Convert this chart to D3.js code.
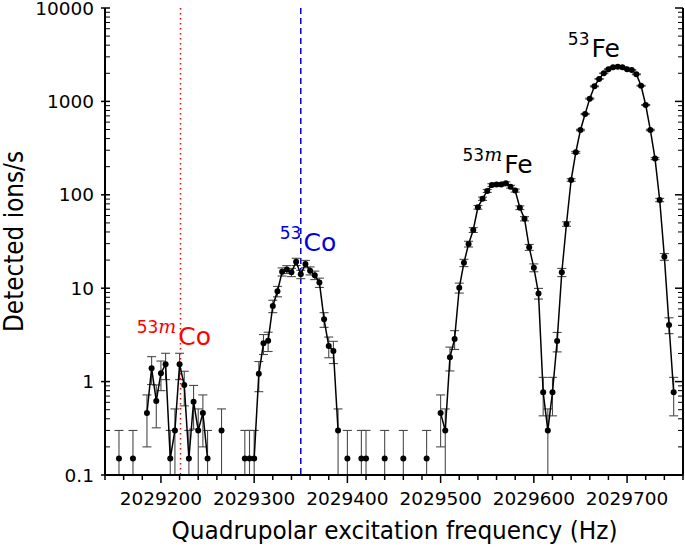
<!DOCTYPE html>
<html><head><meta charset="utf-8">
<script src="https://cdn.jsdelivr.net/npm/d3@7"></script>
<style>
body{margin:0;background:#fff;}
text{font-family:"DejaVu Sans",sans-serif;}
</style></head>
<body><svg id="c" width="685" height="549"></svg>
<script>
// Data (frequency in Hz, detected ions/s, uncertainty)
const freq = [2029155,2029170,2029185,2029190,2029195,2029200,2029205,2029210,2029215,2029220,2029225,2029230,2029235,2029240,2029245,2029250,2029265,
2029290,2029295,2029300,2029305,2029310,2029315,2029320,2029325,2029330,2029335,2029340,2029345,2029350,2029355,2029360,2029365,2029370,2029375,2029380,2029385,2029390,
2029400,2029415,2029420,2029440,2029460,2029485,
2029500,2029505,2029510,2029515,2029520,2029525,2029530,2029535,2029540,2029545,2029550,2029555,2029560,2029565,2029570,2029575,2029580,2029585,2029590,2029595,2029600,2029605,2029610,2029615,2029620,
2029625,2029630,2029635,2029640,2029645,2029650,2029655,2029660,2029665,2029670,2029675,2029680,2029685,2029690,2029695,2029700,2029705,2029710,2029715,2029720,2029725,2029730,2029735,2029740,2029745,2029750];
const rate = [0.15,0.15,0.46,1.39,0.62,1.23,1.53,0.15,0.30,1.53,0.92,0.15,0.61,0.30,0.46,0.15,0.30,
0.15,0.15,0.15,1.21,2.57,2.74,6.45,9.27,15.0,15.9,14.8,19.2,14.1,18.2,15.4,13.8,11.5,4.64,2.40,2.13,0.30,
0.15,0.15,0.15,0.15,0.15,0.15,
0.46,0.30,1.82,2.86,10.1,18.7,29.7,42.0,73.5,90.8,110,127,129,129,133,122,111,72.8,55.5,27.4,16.6,8.8,0.77,0.30,0.77,
2.72,14.8,48.7,144,285,494,733,1070,1450,1740,2000,2210,2320,2350,2320,2210,2170,1950,1470,915,494,244,88,21.7,4.04,0.77];
const err = [0.15,0.15,0.26,0.46,0.30,0.43,0.48,0.15,0.21,0.48,0.37,0.15,0.30,0.21,0.26,0.15,0.21,
0.15,0.15,0.15,0.43,0.62,0.64,0.98,1.18,1.5,1.54,1.49,1.7,1.45,1.65,1.52,1.44,1.31,0.83,0.60,0.57,0.21,
0.15,0.15,0.15,0.15,0.15,0.15,
0.26,0.21,0.52,0.65,1.23,1.67,2.1,2.5,3.3,3.7,4.1,4.4,4.4,4.4,4.5,4.3,4.1,3.3,2.9,2.0,1.6,1.15,0.34,0.21,0.34,
0.64,1.49,2.7,4.6,6.5,8.6,10.5,12.7,14.7,16.2,17.3,18.2,18.7,18.8,18.7,18.2,18.0,17.1,14.8,11.7,8.6,6.0,3.6,1.8,0.78,0.34];

const xTicks = [2029200,2029300,2029400,2029500,2029600,2029700];
const yTicks = [0.1,1,10,100,1000,10000];
const yTickLabels = ["0.1","1","10","100","1000","10000"];

const refLines = [{f:2029221,color:"#ff0000",dash:"1.5,3.5"},{f:2029350,color:"#0000dd",dash:"6,4"}];
const labels = [
 {sup:"53",m:true, main:"Co", f:2029174, v:2.47, color:"#ff0000"},
 {sup:"53",m:false,main:"Co", f:2029327.5, v:25, color:"#0000dd"},
 {sup:"53",m:true, main:"Fe", f:2029523.5, v:170, color:"#000"},
 {sup:"53",m:false,main:"Fe", f:2029636.5, v:2985, color:"#000"}
];

const data = freq.map((f,i)=>({f, v:rate[i], e:err[i]}));

const svg = d3.select("#c");
const L=105, R=683, T=8, B=475;
const x = d3.scaleLinear().domain([2029140,2029760]).range([L,R]);
const y = d3.scaleLog().domain([0.1,10000]).range([B,T]);

// reference lines
refLines.forEach(r=>{
  svg.append("line").attr("x1",x(r.f)).attr("x2",x(r.f)).attr("y1",T).attr("y2",B)
   .attr("stroke",r.color).attr("stroke-width",1.5).attr("stroke-dasharray",r.dash);
});

// error bars
const eb = svg.append("g").attr("stroke","#4a4a4a").attr("stroke-width",1.1);
data.forEach(d=>{
  const hi = d.v+d.e, lo = d.v-d.e;
  const yh = y(hi), yl = lo>0.1 ? y(lo) : B;
  eb.append("line").attr("x1",x(d.f)).attr("x2",x(d.f)).attr("y1",yh).attr("y2",yl);
  eb.append("line").attr("x1",x(d.f)-4.5).attr("x2",x(d.f)+4.5).attr("y1",yh).attr("y2",yh);
  if(lo>0.1) eb.append("line").attr("x1",x(d.f)-4.5).attr("x2",x(d.f)+4.5).attr("y1",yl).attr("y2",yl);
});

// connecting line, split where the frequency step is larger than 5 Hz
const segs=[]; let cur=[data[0]];
for(let i=1;i<data.length;i++){
  if(data[i].f-data[i-1].f>6){segs.push(cur);cur=[];}
  cur.push(data[i]);
}
segs.push(cur);
const line = d3.line().x(d=>x(d.f)).y(d=>y(d.v));
segs.filter(s=>s.length>1).forEach(s=>{
  svg.append("path").attr("d",line(s)).attr("fill","none").attr("stroke","#000").attr("stroke-width",1.5);
});

// points
svg.append("g").selectAll("circle").data(data).join("circle")
  .attr("cx",d=>x(d.f)).attr("cy",d=>y(d.v)).attr("r",3).attr("fill","#000");

// axes
const ax = svg.append("g").attr("stroke","#000");
const minorX = d3.range(2029140,2029761,20);
ax.append("line").attr("x1",L).attr("x2",R).attr("y1",B).attr("y2",B).attr("stroke-width",2);
minorX.forEach(f=>{
  const major = xTicks.includes(f);
  ax.append("line").attr("x1",x(f)).attr("x2",x(f)).attr("y1",B).attr("y2",B+(major?8:5)).attr("stroke-width",1.5);
});
svg.append("g").selectAll("text").data(xTicks).join("text")
  .attr("x",d=>x(d)).attr("y",B+30).attr("text-anchor","middle").attr("font-size",18.5).text(d=>d);

ax.append("line").attr("x1",L).attr("x2",L).attr("y1",T).attr("y2",B).attr("stroke-width",2);
ax.append("line").attr("x1",R).attr("x2",R).attr("y1",T).attr("y2",B).attr("stroke-width",2);
const minorY=[];
for(let e=-1;e<4;e++) for(let k=2;k<10;k++) minorY.push(k*Math.pow(10,e));
yTicks.forEach(v=>{
  ax.append("line").attr("x1",L-4).attr("x2",L+5).attr("y1",y(v)).attr("y2",y(v)).attr("stroke-width",1.5);
  ax.append("line").attr("x1",R-8).attr("x2",R).attr("y1",y(v)).attr("y2",y(v)).attr("stroke-width",1.5);
});
minorY.forEach(v=>{
  ax.append("line").attr("x1",L).attr("x2",L+5).attr("y1",y(v)).attr("y2",y(v)).attr("stroke-width",1);
  ax.append("line").attr("x1",R-5).attr("x2",R).attr("y1",y(v)).attr("y2",y(v)).attr("stroke-width",1);
});
svg.append("g").selectAll("text").data(yTicks).join("text")
  .attr("x",L-11).attr("y",d=>y(d)+6.5).attr("text-anchor","end").attr("font-size",18.5).text((d,i)=>yTickLabels[i]);

// axis titles
svg.append("text").attr("x",394.5).attr("y",539).attr("text-anchor","middle").attr("font-size",24)
  .attr("textLength",446).attr("lengthAdjust","spacingAndGlyphs")
  .text("Quadrupolar excitation frequency (Hz)");
svg.append("text").attr("transform","translate(23,241.5) rotate(-90)").attr("text-anchor","middle").attr("font-size",26)
  .attr("textLength",181).attr("lengthAdjust","spacingAndGlyphs")
  .text("Detected ions/s");

// isotope labels
labels.forEach(l=>{
  const t = svg.append("text").attr("x",x(l.f)).attr("y",y(l.v)).attr("fill",l.color);
  t.append("tspan").attr("font-size",17).attr("dy",-12).text(l.sup);
  if(l.m) t.append("tspan").attr("font-size",19).attr("font-family","DejaVu Serif").attr("font-style","italic").text("m");
  t.append("tspan").attr("font-size",25).attr("dy",12).attr("dx",2).text(l.main);
});
</script></body></html>
